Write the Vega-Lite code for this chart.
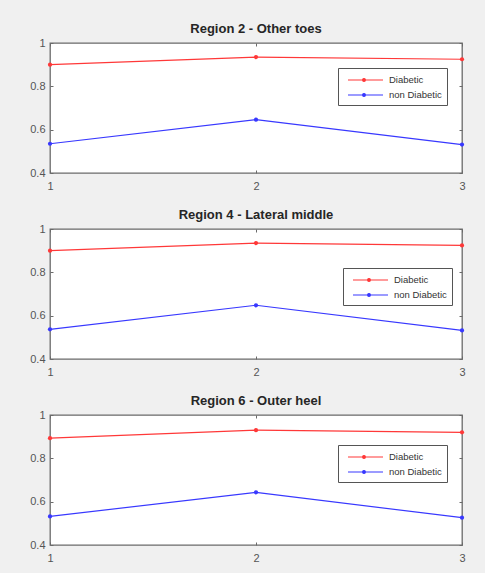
{
  "$schema": "https://vega.github.io/schema/vega-lite/v6.json",
  "background": "#f0f0f0",
  "padding": {"left": 29, "top": 22, "right": 20, "bottom": 10},
  "spacing": 16,
  "datasets": {
    "d": [
      {"region": "R2", "x": 1, "group": "Diabetic", "value": 0.9},
      {"region": "R2", "x": 2, "group": "Diabetic", "value": 0.935},
      {"region": "R2", "x": 3, "group": "Diabetic", "value": 0.925},
      {"region": "R2", "x": 1, "group": "non Diabetic", "value": 0.535},
      {"region": "R2", "x": 2, "group": "non Diabetic", "value": 0.646},
      {"region": "R2", "x": 3, "group": "non Diabetic", "value": 0.531},
      {"region": "R4", "x": 1, "group": "Diabetic", "value": 0.9},
      {"region": "R4", "x": 2, "group": "Diabetic", "value": 0.935},
      {"region": "R4", "x": 3, "group": "Diabetic", "value": 0.924},
      {"region": "R4", "x": 1, "group": "non Diabetic", "value": 0.537},
      {"region": "R4", "x": 2, "group": "non Diabetic", "value": 0.648},
      {"region": "R4", "x": 3, "group": "non Diabetic", "value": 0.532},
      {"region": "R6", "x": 1, "group": "Diabetic", "value": 0.893},
      {"region": "R6", "x": 2, "group": "Diabetic", "value": 0.93},
      {"region": "R6", "x": 3, "group": "Diabetic", "value": 0.92},
      {"region": "R6", "x": 1, "group": "non Diabetic", "value": 0.532},
      {"region": "R6", "x": 2, "group": "non Diabetic", "value": 0.643},
      {"region": "R6", "x": 3, "group": "non Diabetic", "value": 0.526}
    ]
  },
  "resolve": {"scale": {"color": "independent"}, "legend": {"color": "independent"}},
  "vconcat": [
    {
      "title": "Region 2 - Other toes",
      "width": 412, "height": 130,
      "data": {"name": "d"},
      "transform": [{"filter": "datum.region == 'R2'"}],
      "layer": [
        {
          "mark": {"type": "line", "strokeWidth": 1.2, "point": {"filled": true, "size": 18}},
          "encoding": {
            "x": {"field": "x", "type": "quantitative", "scale": {"domain": [1, 3]}, "axis": {"values": [1, 2, 3], "format": "~g", "labelOverlap": false, "labelPadding": 10}},
            "y": {"field": "value", "type": "quantitative", "scale": {"domain": [0.4, 1]}, "axis": {"values": [0.4, 0.6, 0.8, 1], "format": "~g", "labelOverlap": false}},
            "color": {"field": "group", "type": "nominal", "scale": {"domain": ["Diabetic", "non Diabetic"], "range": ["#ff3838", "#3838ff"]},
              "legend": {"legendX": 288, "legendY": 25}}
          }
        },
        {
          "mark": {"type": "point", "opacity": 0},
          "encoding": {
            "x": {"field": "x", "type": "quantitative", "scale": {"domain": [1, 3]}, "axis": {"orient": "top", "values": [1, 2, 3], "labels": false}},
            "y": {"field": "value", "type": "quantitative", "scale": {"domain": [0.4, 1]}, "axis": {"orient": "right", "values": [0.4, 0.6, 0.8, 1], "labels": false}}
          }
        }
      ],
      "resolve": {"axis": {"x": "independent", "y": "independent"}}
    },
    {
      "title": "Region 4 - Lateral middle",
      "width": 412, "height": 130,
      "data": {"name": "d"},
      "transform": [{"filter": "datum.region == 'R4'"}],
      "layer": [
        {
          "mark": {"type": "line", "strokeWidth": 1.2, "point": {"filled": true, "size": 18}},
          "encoding": {
            "x": {"field": "x", "type": "quantitative", "scale": {"domain": [1, 3]}, "axis": {"values": [1, 2, 3], "format": "~g", "labelOverlap": false, "labelPadding": 10}},
            "y": {"field": "value", "type": "quantitative", "scale": {"domain": [0.4, 1]}, "axis": {"values": [0.4, 0.6, 0.8, 1], "format": "~g", "labelOverlap": false}},
            "color": {"field": "group", "type": "nominal", "scale": {"domain": ["Diabetic", "non Diabetic"], "range": ["#ff3838", "#3838ff"]},
              "legend": {"legendX": 293, "legendY": 39}}
          }
        },
        {
          "mark": {"type": "point", "opacity": 0},
          "encoding": {
            "x": {"field": "x", "type": "quantitative", "scale": {"domain": [1, 3]}, "axis": {"orient": "top", "values": [1, 2, 3], "labels": false}},
            "y": {"field": "value", "type": "quantitative", "scale": {"domain": [0.4, 1]}, "axis": {"orient": "right", "values": [0.4, 0.6, 0.8, 1], "labels": false}}
          }
        }
      ],
      "resolve": {"axis": {"x": "independent", "y": "independent"}}
    },
    {
      "title": "Region 6 - Outer heel",
      "width": 412, "height": 130,
      "data": {"name": "d"},
      "transform": [{"filter": "datum.region == 'R6'"}],
      "layer": [
        {
          "mark": {"type": "line", "strokeWidth": 1.2, "point": {"filled": true, "size": 18}},
          "encoding": {
            "x": {"field": "x", "type": "quantitative", "scale": {"domain": [1, 3]}, "axis": {"values": [1, 2, 3], "format": "~g", "labelOverlap": false, "labelPadding": 10}},
            "y": {"field": "value", "type": "quantitative", "scale": {"domain": [0.4, 1]}, "axis": {"values": [0.4, 0.6, 0.8, 1], "format": "~g", "labelOverlap": false}},
            "color": {"field": "group", "type": "nominal", "scale": {"domain": ["Diabetic", "non Diabetic"], "range": ["#ff3838", "#3838ff"]},
              "legend": {"legendX": 288, "legendY": 30}}
          }
        },
        {
          "mark": {"type": "point", "opacity": 0},
          "encoding": {
            "x": {"field": "x", "type": "quantitative", "scale": {"domain": [1, 3]}, "axis": {"orient": "top", "values": [1, 2, 3], "labels": false}},
            "y": {"field": "value", "type": "quantitative", "scale": {"domain": [0.4, 1]}, "axis": {"orient": "right", "values": [0.4, 0.6, 0.8, 1], "labels": false}}
          }
        }
      ],
      "resolve": {"axis": {"x": "independent", "y": "independent"}}
    }
  ],
  "config": {
    "font": "Liberation Sans",
    "view": {"stroke": "#6a6a6a", "fill": "white", "strokeWidth": 1.3},
    "title": {"fontSize": 13, "fontWeight": "bold", "color": "#262626", "offset": 1},
    "axis": {
      "domain": false, "grid": false, "title": null,
      "tickSize": -3, "tickColor": "#6a6a6a", "labelFontSize": 11, "labelColor": "#555555",
      "labelFlush": false, "labelPadding": 8, "labelOverlap": false
    },
    "legend": {
      "orient": "none", "title": null, "fillColor": "white", "strokeColor": "#555555",
      "padding": 5, "labelFontSize": 9.5, "labelColor": "#333333", "labelOffset": 32, "rowPadding": 3,
      "symbolType": "M-0.333,0H5.5M2.1,0a0.233,0.233 0 1,0 0.466,0a0.233,0.233 0 1,0 -0.466,0",
      "symbolSize": 144, "symbolStrokeWidth": 1.2
    }
  }
}
